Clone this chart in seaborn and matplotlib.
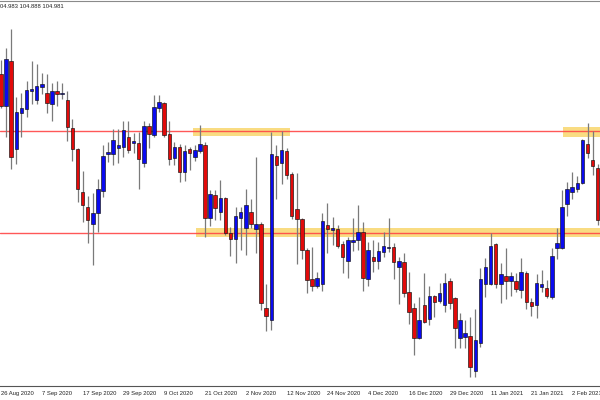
import numpy as np
import pandas as pd
import matplotlib
matplotlib.use("Agg")
import matplotlib.pyplot as plt
import seaborn as sns

# ---- data (daily candles, 26 Aug 2020 .. early Feb 2021) ----
opens = [106.38, 105.98, 106.54, 105.44, 105.89, 105.94, 106.16, 106.05, 106.21, 106.14,
         106.00, 106.16, 106.13, 106.05, 105.70, 105.44, 104.90, 104.71, 104.50, 104.64,
         104.91, 105.38, 105.38, 105.45, 105.46, 105.59, 105.51, 105.51, 105.26, 105.73,
         105.61, 105.95, 106.01, 105.63, 105.33, 105.46, 105.15, 105.44, 105.34, 105.41,
         105.49, 104.58, 104.86, 104.65, 104.83, 104.39, 104.31, 104.58, 104.45, 104.65,
         104.44, 104.50, 103.45, 103.30, 105.35, 105.26, 105.41, 105.13, 104.69, 104.56,
         104.18, 103.81, 103.73, 103.75, 104.49, 104.43, 104.44, 104.25, 104.04, 104.28,
         104.30, 104.40, 103.81, 104.09, 104.04, 104.15, 104.20, 104.21, 103.96, 104.03,
         103.65, 103.45, 103.08, 103.49, 103.31, 103.60, 103.54, 103.49, 103.79, 103.58,
         103.08, 103.09, 103.10, 102.66, 103.01, 103.75, 103.75, 104.25, 103.75, 103.85,
         103.79, 103.79, 103.68, 103.89, 103.53, 103.49, 103.71, 103.70, 103.59, 104.20,
         104.20, 104.75, 104.90, 104.94, 105.01, 105.50, 105.30, 105.20]
highs = [106.55, 106.70, 106.94, 106.09, 106.14, 106.29, 106.54, 106.50, 106.39, 106.38,
         106.26, 106.29, 106.26, 106.16, 105.81, 105.45, 105.16, 104.85, 104.89, 105.06,
         105.49, 105.53, 105.69, 105.69, 105.79, 105.79, 105.64, 105.65, 105.79, 105.76,
         106.11, 106.11, 106.03, 105.79, 105.53, 105.50, 105.49, 105.46, 105.49, 105.74,
         105.53, 104.93, 104.93, 105.05, 104.84, 104.46, 104.71, 104.71, 104.94, 104.81,
         105.34, 104.53, 103.75, 105.65, 105.49, 105.66, 105.45, 105.15, 105.14, 104.58,
         104.20, 104.21, 103.90, 104.64, 104.76, 104.59, 104.49, 104.29, 104.34, 104.58,
         104.74, 104.53, 104.28, 104.30, 104.28, 104.40, 104.58, 104.26, 104.09, 104.14,
         103.90, 103.51, 103.59, 103.89, 103.73, 103.61, 103.76, 103.89, 103.83, 103.59,
         103.39, 103.30, 103.34, 103.44, 103.95, 104.08, 104.39, 104.26, 104.01, 104.20,
         103.90, 103.89, 104.08, 103.91, 103.58, 103.88, 103.93, 103.80, 104.20, 104.45,
         104.93, 105.03, 105.15, 105.10, 105.56, 105.76, 105.66, 105.25]
lows = [105.95, 105.59, 105.19, 105.25, 105.59, 105.84, 106.00, 106.00, 106.13, 105.89,
        105.79, 105.98, 106.06, 105.54, 105.29, 104.78, 104.53, 104.26, 103.99, 104.40,
        104.84, 105.28, 105.24, 105.26, 105.34, 105.39, 105.39, 104.94, 105.21, 105.45,
        105.59, 105.90, 105.59, 105.24, 105.24, 105.03, 105.04, 105.18, 105.29, 105.39,
        104.34, 104.48, 104.55, 104.55, 104.36, 104.10, 104.01, 104.18, 104.11, 104.45,
        104.14, 103.43, 103.16, 103.18, 104.81, 105.00, 105.06, 104.56, 104.00, 104.06,
        103.64, 103.66, 103.70, 103.66, 104.14, 104.24, 104.20, 103.89, 103.83, 104.16,
        104.18, 103.66, 103.73, 103.90, 103.94, 104.09, 104.15, 103.81, 103.50, 103.59,
        103.25, 102.86, 103.06, 103.26, 103.24, 103.34, 103.51, 103.40, 103.44, 102.95,
        102.95, 102.95, 102.59, 102.59, 102.96, 103.59, 103.74, 103.70, 103.51, 103.56,
        103.60, 103.65, 103.58, 103.44, 103.35, 103.33, 103.65, 103.58, 103.56, 104.06,
        104.19, 104.60, 104.81, 104.90, 105.00, 105.33, 105.11, 104.49]
closes = [105.98, 106.56, 105.34, 105.90, 105.95, 106.18, 106.19, 106.23, 106.25, 106.01,
          106.16, 106.13, 106.14, 105.71, 105.44, 104.94, 104.74, 104.55, 104.64, 104.94,
          105.35, 105.40, 105.55, 105.49, 105.68, 105.43, 105.54, 105.31, 105.73, 105.63,
          105.96, 106.03, 105.61, 105.31, 105.46, 105.15, 105.41, 105.39, 105.43, 105.50,
          104.58, 104.88, 104.70, 104.83, 104.39, 104.31, 104.60, 104.65, 104.74, 104.50,
          104.50, 103.51, 103.35, 105.38, 105.24, 105.43, 105.11, 104.60, 104.56, 104.18,
          103.80, 103.73, 103.83, 104.54, 104.44, 104.45, 104.23, 104.09, 104.30, 104.30,
          104.40, 103.83, 104.18, 104.04, 104.16, 104.23, 104.21, 104.03, 104.04, 103.64,
          103.40, 103.08, 103.30, 103.28, 103.60, 103.53, 103.64, 103.76, 103.51, 103.20,
          103.30, 103.14, 102.71, 103.05, 103.81, 103.96, 104.23, 103.75, 103.88, 103.79,
          103.85, 103.69, 103.90, 103.53, 103.48, 103.76, 103.75, 103.60, 104.10, 104.26,
          104.71, 104.94, 104.96, 105.01, 105.55, 105.39, 105.23, 104.55]

tick_bars = [0, 8, 16, 24, 32, 40, 48, 56, 64, 72, 80, 88, 96, 104, 112]
tick_labels = ["26 Aug 2020", "7 Sep 2020", "17 Sep 2020", "29 Sep 2020", "9 Oct 2020",
               "21 Oct 2020", "2 Nov 2020", "12 Nov 2020", "24 Nov 2020", "4 Dec 2020",
               "16 Dec 2020", "29 Dec 2020", "11 Jan 2021", "21 Jan 2021", "2 Feb 2021"]
header_text = "04.983 104.888 104.981"

level_lines = [105.66, 104.39]
# zones: (start bar, end bar, low price, high price)
zone_start = [37.6, 110.2, 38.2]
zone_end = [56.7, 118.5, 118.5]
zone_low = [105.605, 105.59, 104.34]
zone_high = [105.705, 105.71, 104.445]

df = pd.DataFrame({"open": opens, "high": highs, "low": lows, "close": closes})
df["bar"] = np.arange(len(df))
df["up"] = df["close"] >= df["open"]

sns.set_theme(style="white")
plt.rcParams["font.family"] = ["Liberation Sans", "DejaVu Sans"]

fig = plt.figure(figsize=(6, 4), dpi=100)
ax = fig.add_axes([0, 14.5 / 400, 1, 384.5 / 400])
ax.set_facecolor("white")

# zones
for s, e, lo, hi in zip(zone_start, zone_end, zone_low, zone_high):
    ax.fill_between([s, e], lo, hi, color="#f8d66c", alpha=0.85, lw=0, zorder=1)

# level lines
for lv in level_lines:
    ax.axhline(lv, color="#ff4646", lw=1.0, alpha=0.9, zorder=1.5)

# wicks
ax.vlines(df["bar"], df["low"], df["high"], color="#7a7a7a", lw=0.9, zorder=2)

# bodies
body_bottom = np.minimum(df["open"], df["close"])
body_h = np.maximum(np.abs(df["close"] - df["open"]), 0.006)
colors = np.where(df["up"], "#0a0af0", "#e20a0a")
ax.bar(df["bar"], body_h, bottom=body_bottom, width=0.7, color=colors,
       edgecolor="#111111", linewidth=0.45, zorder=3)

ax.set_xlim(-1 / 5.1, 599 / 5.1)
ax.set_ylim(107.30 - 385.5 / 80, 107.30 - 1 / 80)

ax.set_yticks([])
ax.set_xticks(tick_bars)
ax.set_xticklabels(tick_labels, ha="left", fontsize=4.2, color="#222222")
ax.tick_params(axis="x", direction="out", length=2.2, width=0.6, color="#555555", pad=1.5)
for sp in ["left", "right"]:
    ax.spines[sp].set_visible(False)
ax.spines["top"].set_color("#8a8a8a")
ax.spines["top"].set_linewidth(0.8)
ax.spines["bottom"].set_color("#555555")
ax.spines["bottom"].set_linewidth(0.8)
ax.set_xlabel("")
ax.set_ylabel("")

fig.text(0.0, 1 - 6.8 / 400, header_text, fontsize=4.2, color="#222222",
         ha="left", va="center")

fig.savefig("out.png", dpi=100)
